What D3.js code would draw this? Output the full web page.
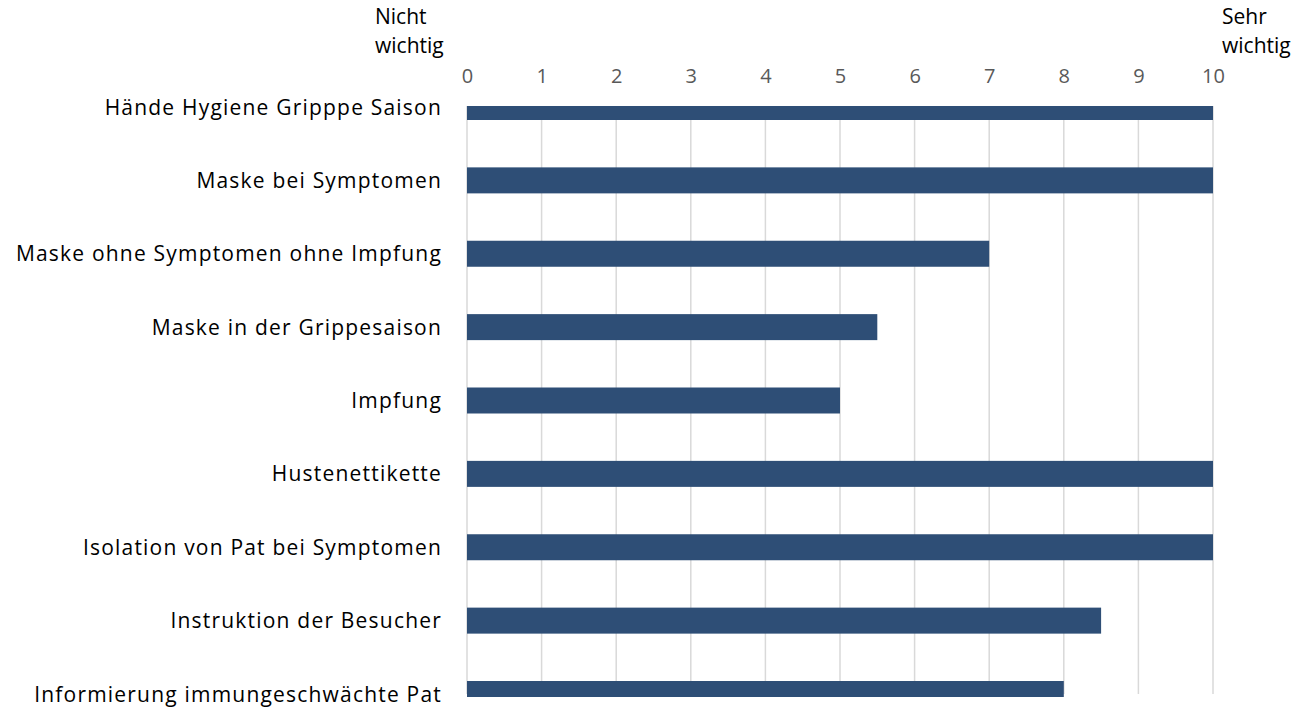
<!DOCTYPE html>
<html>
<head>
<meta charset="utf-8">
<script src="https://cdn.jsdelivr.net/npm/d3@7"></script>
<style>
  html, body { margin: 0; padding: 0; background: #fff; }
  svg { display: block; font-family: "Open Sans", sans-serif; }
</style>
</head>
<body>
<svg id="chart" width="1299" height="707"></svg>
<script>
// Measures of prevention importance (0 = not important, 10 = very important)
const categories = [
  "Hände Hygiene Gripppe Saison",
  "Maske bei Symptomen",
  "Maske ohne Symptomen ohne Impfung",
  "Maske in der Grippesaison",
  "Impfung",
  "Hustenettikette",
  "Isolation von Pat bei Symptomen",
  "Instruktion der Besucher",
  "Informierung immungeschwächte Pat"
];
const values = [10, 10, 7, 5.5, 5, 10, 10, 8.5, 8];
const tickValues = [0, 1, 2, 3, 4, 5, 6, 7, 8, 9, 10];
const lowLabel = ["Nicht", "wichtig"];
const highLabel = ["Sehr", "wichtig"];

const svg = d3.select("#chart");
const plot = { left: 467, right: 1213, top: 106, bottom: 694, clipBottom: 697 };

const x = d3.scaleLinear().domain([0, 10]).range([plot.left, plot.right]);
const y = d3.scalePoint().domain(categories).range([107, 694]);
const barH = 26;

// vertical gridlines
svg.append("g")
  .selectAll("line")
  .data(tickValues)
  .join("line")
  .attr("x1", d => x(d)).attr("x2", d => x(d))
  .attr("y1", plot.top).attr("y2", plot.bottom)
  .attr("stroke", "#d9d9d9")
  .attr("stroke-width", 1.5);

// top axis tick labels
const axis = d3.axisTop(x).tickValues(tickValues).tickSize(0).tickPadding(0);
const gAxis = svg.append("g").attr("transform", "translate(0,83)").call(axis);
gAxis.select(".domain").remove();
gAxis.selectAll("text")
  .attr("fill", "#595959")
  .style("font-size", "20px")
  .style("font-family", "'Open Sans', sans-serif");

// bars, clipped to the plot area
svg.append("clipPath").attr("id", "plotClip")
  .append("rect")
  .attr("x", plot.left - 2).attr("y", plot.top)
  .attr("width", plot.right - plot.left + 4)
  .attr("height", plot.clipBottom - plot.top);

svg.append("g").attr("clip-path", "url(#plotClip)")
  .selectAll("rect")
  .data(values)
  .join("rect")
  .attr("x", x(0))
  .attr("y", (d, i) => y(categories[i]) - barH / 2)
  .attr("width", d => x(d) - x(0))
  .attr("height", barH)
  .attr("fill", "#2e4e76");

// category labels
svg.append("g")
  .selectAll("text")
  .data(categories)
  .join("text")
  .attr("x", 442)
  .attr("y", d => y(d) + 7.5)
  .attr("text-anchor", "end")
  .attr("fill", "#000")
  .style("font-size", "21px")
  .style("letter-spacing", "1.2px")
  .text(d => d);

// scale end captions
function caption(lines, xPos) {
  svg.append("text")
    .attr("x", xPos).attr("y", 24)
    .attr("fill", "#000")
    .style("font-size", "21px")
    .selectAll("tspan")
    .data(lines)
    .join("tspan")
    .attr("x", xPos)
    .attr("dy", (d, i) => i === 0 ? 0 : 29)
    .text(d => d);
}
caption(lowLabel, 375);
caption(highLabel, 1222);
</script>
</body>
</html>
